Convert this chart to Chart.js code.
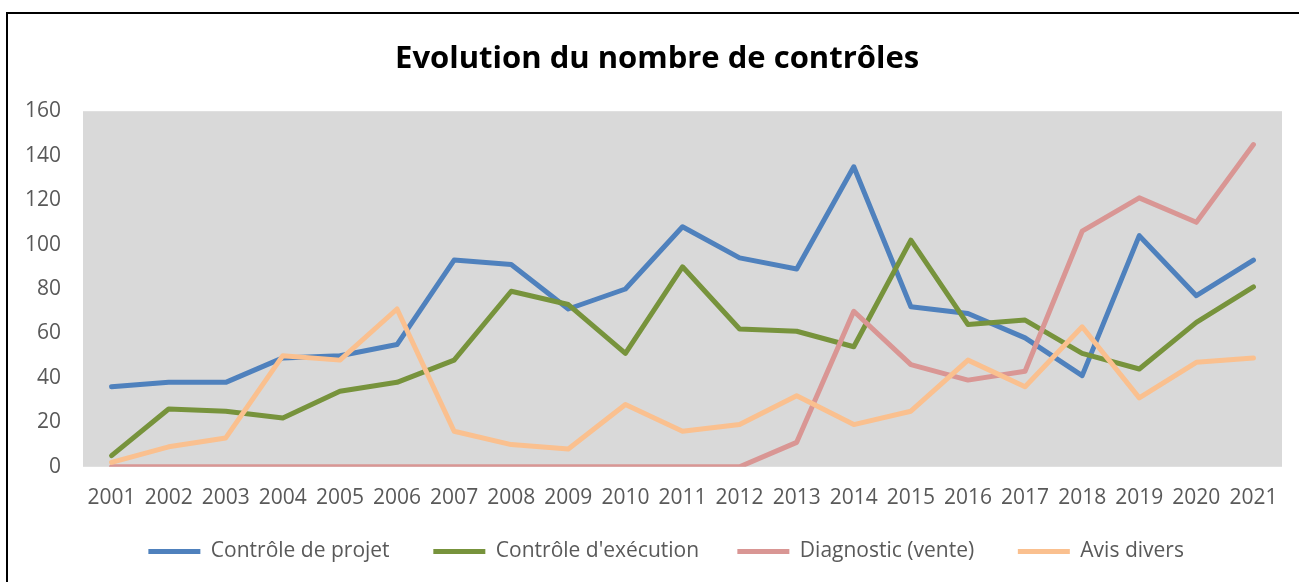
<!DOCTYPE html>
<html>
<head>
<meta charset="utf-8">
<script src="https://cdn.jsdelivr.net/npm/chart.js@4/dist/chart.umd.min.js"></script>
<style>
    html, body { margin: 0; padding: 0; background: #fff; overflow: hidden; }
    #cadre { position: absolute; left: 6px; top: 12px; width: 1400px; height: 700px; border: 2px solid #000; }
    #zone { position: absolute; left: 0; top: 0; width: 1299px; height: 582px; }
</style>
</head>
<body>
<div id="cadre"></div>
<div id="zone"><canvas id="grafica"></canvas></div>
<script>
// donnees
const annees = ['2001', '2002', '2003', '2004', '2005', '2006', '2007', '2008', '2009', '2010', '2011',
    '2012', '2013', '2014', '2015', '2016', '2017', '2018', '2019', '2020', '2021'];
const controleProjet = [36, 38, 38, 49, 50, 55, 93, 91, 71, 80, 108, 94, 89, 135, 72, 69, 58, 41, 104, 77, 93];
const controleExecution = [5, 26, 25, 22, 34, 38, 48, 79, 73, 51, 90, 62, 61, 54, 102, 64, 66, 51, 44, 65, 81];
const diagnosticVente = [0, 0, 0, 0, 0, 0, 0, 0, 0, 0, 0, 0, 11, 70, 46, 39, 43, 106, 121, 110, 145];
const avisDivers = [2, 9, 13, 50, 48, 71, 16, 10, 8, 28, 16, 19, 32, 19, 25, 48, 36, 63, 31, 47, 49];
const ticksY = [0, 20, 40, 60, 80, 100, 120, 140, 160];

const police = "'Open Sans', sans-serif";

// espaces ajoutés après chaque libellé de légende (écart entre les éléments)
const espacesLegende = ['      ', '     ', '      ', '      '];

// fond gris de la zone de tracé
const fondGris = {
    id: 'fondGris',
    beforeDatasetsDraw(chart) {
        const a = chart.chartArea;
        const ctx = chart.ctx;
        ctx.save();
        ctx.fillStyle = '#D9D9D9';
        ctx.fillRect(a.left, a.top, a.right - a.left, a.bottom - a.top);
        ctx.restore();
    }
};

function serie(label, data, couleur, ordre) {
    return {
        label: label,
        data: data,
        borderColor: couleur,
        backgroundColor: couleur,
        borderWidth: 5,
        pointRadius: 0,
        tension: 0,
        borderCapStyle: 'round',
        borderJoinStyle: 'round',
        order: ordre
    };
}

const genererLegende = Chart.defaults.plugins.legend.labels.generateLabels;

const ctx = document.getElementById('grafica').getContext('2d');
const chart = new Chart(ctx, {
    type: 'line',
    data: {
        labels: annees,
        datasets: [
            serie('Contrôle de projet', controleProjet, '#4F81BD', 4),
            serie("Contrôle d'exécution", controleExecution, '#77933C', 3),
            serie('Diagnostic (vente)', diagnosticVente, '#D99694', 2),
            serie('Avis divers', avisDivers, '#FAC08F', 1)
        ]
    },
    options: {
        responsive: true,
        maintainAspectRatio: false,
        animation: false,
        layout: { padding: { left: 0, right: 17, top: 0, bottom: 10 } },
        plugins: {
            title: {
                display: true,
                // espaces en tête pour centrer le titre comme sur l'original
                text: '    Evolution du nombre de contrôles',
                color: '#000',
                font: { family: police, size: 31, weight: 'bold' },
                padding: { top: 41, bottom: 33 }
            },
            legend: {
                position: 'bottom',
                fullSize: false,
                labels: {
                    usePointStyle: true,
                    pointStyle: 'line',
                    pointStyleWidth: 52,
                    color: '#595959',
                    font: { family: police, size: 21 },
                    padding: 11,
                    generateLabels: function (chart) {
                        const items = genererLegende(chart);
                        items.forEach(it => { it.text = it.text + espacesLegende[it.datasetIndex]; });
                        return items;
                    },
                    sort: (a, b) => a.datasetIndex - b.datasetIndex
                }
            },
            tooltip: { enabled: false }
        },
        scales: {
            x: {
                offset: true,
                grid: { display: false, drawTicks: false },
                border: { display: false },
                ticks: { color: '#595959', font: { family: police, size: 21 }, padding: 19, maxRotation: 0, autoSkip: false }
            },
            y: {
                min: 0,
                max: 160,
                afterFit: function (scale) { scale.width = 83; },
                afterBuildTicks: function (scale) { scale.ticks = ticksY.map(v => ({ value: v })); },
                grid: { display: false, drawTicks: false },
                border: { display: false },
                ticks: { color: '#595959', font: { family: police, size: 21 }, padding: 22 }
            }
        }
    },
    plugins: [fondGris]
});
</script>
</body>
</html>
